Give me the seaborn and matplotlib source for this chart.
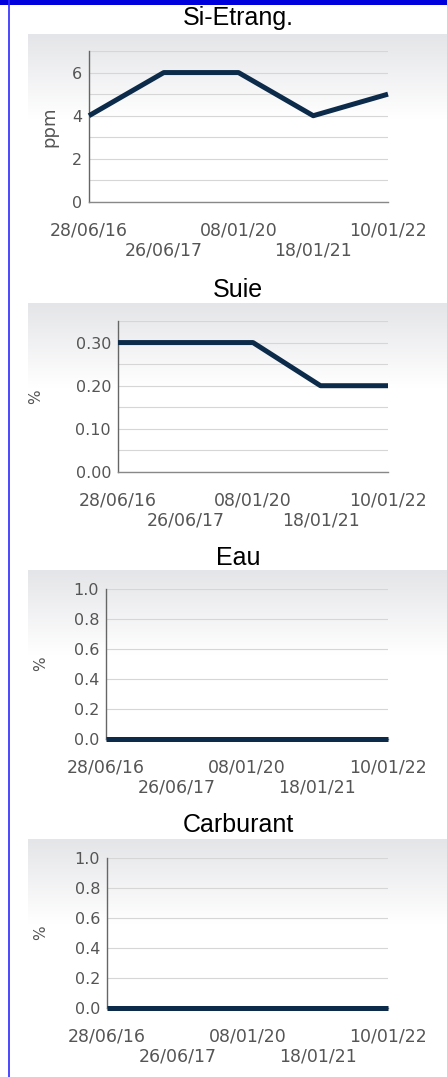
import numpy as np
import pandas as pd
import matplotlib
matplotlib.use("Agg")
import matplotlib.pyplot as plt
from matplotlib.patches import Rectangle
from matplotlib.ticker import FixedLocator
import seaborn as sns

# ---------------- data ----------------
dates = ["28/06/16", "26/06/17", "08/01/20", "18/01/21", "10/01/22"]
titles = ["Si-Etrang.", "Suie", "Eau", "Carburant"]
units = ["ppm", "%", "%", "%"]
si_etrang = [4, 6, 6, 4, 5]
suie = [0.30, 0.30, 0.30, 0.20, 0.20]
eau = [0.0, 0.0, 0.0, 0.0, 0.0]
carburant = [0.0, 0.0, 0.0, 0.0, 0.0]
series = [si_etrang, suie, eau, carburant]

yticks_major = [[0, 2, 4, 6], [0.0, 0.1, 0.2, 0.3], [0.0, 0.2, 0.4, 0.6, 0.8, 1.0], [0.0, 0.2, 0.4, 0.6, 0.8, 1.0]]
yticklabels = [["0", "2", "4", "6"], ["0.00", "0.10", "0.20", "0.30"],
               ["0.0", "0.2", "0.4", "0.6", "0.8", "1.0"], ["0.0", "0.2", "0.4", "0.6", "0.8", "1.0"]]
ygrid = [[0, 1, 2, 3, 4, 5, 6, 7], [0, 0.05, 0.1, 0.15, 0.2, 0.25, 0.3, 0.35],
         [0, 0.2, 0.4, 0.6, 0.8, 1.0], [0, 0.2, 0.4, 0.6, 0.8, 1.0]]
ylims = [(0, 7), (0, 0.35), (0, 1), (0, 1)]

# ---------------- layout (pixels) ----------------
W, H = 447, 1077
axes_px = [(89, 51, 388, 202), (118, 321, 388, 472), (106, 589, 388, 739), (107, 858, 388, 1008)]
title_base = [25, 297, 565, 832]
grad_top = [34, 303, 570, 839]
ylabel_x = [49, 36, 41, 41]
ylabel_size = [13, 11, 11, 11]

sns.set_theme(style="white")
plt.rcParams["font.family"] = ["DejaVu Sans"]

fig = plt.figure(figsize=(W / 100, H / 100), dpi=100)
fig.patch.set_facecolor("white")

# background: gradients + blue frame
bg = fig.add_axes([0, 0, 1, 1], zorder=-5)
grad = np.linspace(0, 1, 100)[:, None]
top_c = np.array([0.895, 0.898, 0.91])
img = top_c[None, None, :] * (1 - grad[:, :, None]) + np.ones(3)[None, None, :] * grad[:, :, None]
for gt in grad_top:
    bg.imshow(img, extent=(28, 447, gt + 85, gt), aspect="auto", origin="upper", interpolation="bilinear")
bg.add_patch(Rectangle((0, 0), W, 5, color="#0000dd", lw=0))
bg.plot([8.5, 8.5], [0, H], color="#2a2aff", lw=1.2)
bg.set_xlim(0, W)
bg.set_ylim(H, 0)
bg.axis("off")

line_color = "#0c2b4b"
tick_color = "#555555"

for i in range(4):
    l, t, r, b = axes_px[i]
    ax = fig.add_axes([l / W, 1 - b / H, (r - l) / W, (b - t) / H])
    ax.set_facecolor("none")
    df = pd.DataFrame({"x": list(range(len(dates))), "y": series[i]})
    sns.lineplot(data=df, x="x", y="y", ax=ax, color=line_color, lw=3.6,
                 clip_on=False, solid_capstyle="butt", zorder=5)
    ax.set_xlim(0, len(dates) - 1)
    ax.set_ylim(*ylims[i])
    ax.yaxis.set_major_locator(FixedLocator(yticks_major[i]))
    ax.set_yticklabels(yticklabels[i])
    ax.yaxis.set_minor_locator(FixedLocator(ygrid[i]))
    ax.yaxis.grid(True, which="both", color="#d6d6d6", lw=0.8)
    ax.xaxis.grid(False)
    ax.set_xticks(list(range(len(dates))))
    ax.set_xticklabels(dates)
    ax.tick_params(axis="x", length=0, pad=14, labelsize=12.5, labelcolor=tick_color)
    ax.tick_params(axis="y", which="both", length=0, pad=5, labelsize=11.5, labelcolor=tick_color)
    for k, tk in enumerate(ax.xaxis.get_major_ticks()):
        if k % 2 == 1:
            tk.set_pad(28.5)
    for s in ["top", "right"]:
        ax.spines[s].set_visible(False)
    ax.spines["left"].set_color("#666666")
    ax.spines["left"].set_linewidth(1.0)
    ax.spines["bottom"].set_color("#888888")
    ax.spines["bottom"].set_linewidth(1.0)
    ax.set_xlabel("")
    ax.set_ylabel(units[i], fontsize=ylabel_size[i], color=tick_color)
    ax.yaxis.label.set_va("center")
    ax.yaxis.set_label_coords((ylabel_x[i] - l) / (r - l), 0.5)
    fig.text(238 / W, 1 - title_base[i] / H, titles[i], ha="center", va="baseline",
             fontsize=18, family=["Liberation Sans", "DejaVu Sans"], color="black")

fig.savefig("out.png", dpi=100)
